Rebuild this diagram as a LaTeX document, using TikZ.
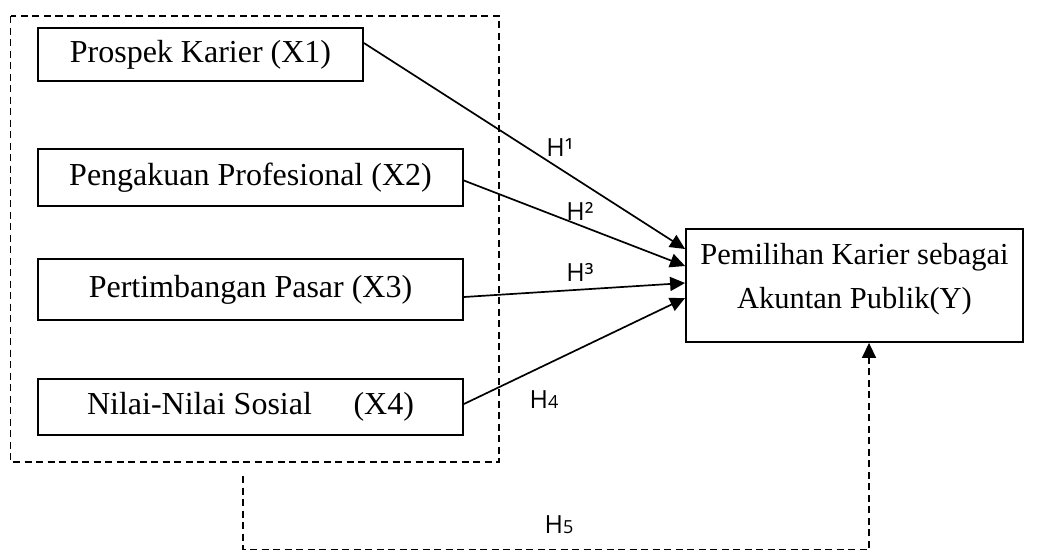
\documentclass[tikz,border=0pt]{standalone}
\usepackage{fontspec}
\setmainfont{Liberation Serif}
\newfontfamily\hfont{Open Sans}
\usetikzlibrary{arrows.meta}
\begin{document}
\begin{tikzpicture}[x=1pt,y=-1pt,
  varbox/.style={draw,line width=1.8pt,inner sep=0pt,align=center,font=\fontsize{32}{43}\selectfont},
  grpbox/.style={draw,line width=1.5pt,dash pattern=on 7pt off 4.5pt},
  link/.style={line width=1.7pt,-{Triangle[length=15pt,width=14pt]}},
  dlink/.style={line width=1.5pt,dash pattern=on 7pt off 4.5pt,-{Triangle[length=15pt,width=14pt]}},
  hlab/.style={font=\hfont\fontsize{25}{28}\selectfont,inner sep=0pt}]
\useasboundingbox (0,0) rectangle (1048,552);
\draw[grpbox] (10.5,16) rectangle (499,462);
\node[varbox,minimum width=325pt,minimum height=53pt] (x1) at (200.5,54.5) {Prospek Karier (X1)};
\node[varbox,minimum width=425pt,minimum height=57pt] (x2) at (250.5,177.5) {Pengakuan Profesional (X2)};
\node[varbox,minimum width=425pt,minimum height=61pt] (x3) at (250.5,289.5) {Pertimbangan Pasar (X3)};
\node[varbox,minimum width=425pt,minimum height=56pt] (x4) at (250.5,407) {Nilai-Nilai Sosial\hspace{1.3em}(X4)};
\node[varbox,minimum width=337pt,minimum height=113pt,font=\fontsize{30.5}{43.5}\selectfont] (y) at (854.5,285.5) {Pemilihan Karier sebagai\\Akuntan Publik(Y)\rule[-19pt]{0pt}{0pt}};
\draw[link] ([yshift=11.5pt]x1.east) -- ([yshift=36.5pt]y.west);
\draw[link] ([yshift=-3pt]x2.east) -- ([yshift=19.5pt]y.west);
\draw[link] ([yshift=-7.5pt]x3.east) -- ([yshift=2.5pt]y.west);
\draw[link] ([yshift=3pt]x4.east) -- ([yshift=-12.5pt]y.west);
\node[hlab] (h1) at (560,148) {H¹};
\node[hlab] (h2) at (580,211) {H²};
\node[hlab] (h3) at (580,272) {H³};
\node[hlab] (h4) at (544,400) {H{\fontsize{18}{20}\selectfont 4}};
\node[hlab] (h5) at (559,525) {H{\fontsize{18}{20}\selectfont 5}};
\coordinate (s) at (243,476);
\coordinate (c1) at (243,549.5);
\coordinate (c2) at (869,549.5);
\draw[dlink] (s) -- (c1) -- (c2) -- (c2 |- y.south);
\end{tikzpicture}
\end{document}
